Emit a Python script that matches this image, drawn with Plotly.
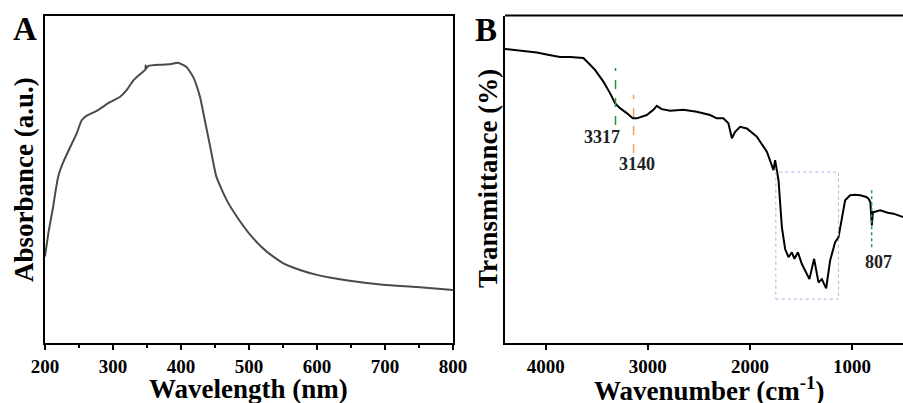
import plotly.graph_objects as go

# ---------------- Panel A: UV-vis absorbance ----------------
wavelength_nm = [200, 204.9, 207, 212.3, 215, 219.6, 227, 236.8, 246.6, 254, 262, 276, 296, 310, 320,
                 330, 345, 347.5, 348, 349, 352, 372, 386, 395, 408, 418, 428, 435, 443, 452,
                 467, 487, 506, 526, 550, 575, 600, 648, 697, 747, 800]
absorbance = [0.264, 0.335, 0.36, 0.42, 0.457, 0.51, 0.553, 0.597, 0.64, 0.680, 0.695, 0.709, 0.736, 0.751, 0.772,
              0.802, 0.830, 0.834, 0.848, 0.838, 0.846, 0.850, 0.852, 0.856, 0.843, 0.812, 0.751, 0.680, 0.599, 0.508,
              0.437, 0.371, 0.320, 0.279, 0.244, 0.223, 0.208, 0.190, 0.178, 0.171, 0.162]

# ---------------- Panel B: FTIR transmittance ----------------
wavenumber = [4400, 4330, 4253, 4180, 4089, 3980, 3861, 3763, 3632, 3583, 3518, 3436, 3371, 3322, 3273,
              3207, 3148, 3109, 3011, 2946, 2913, 2864, 2782, 2652, 2521, 2390, 2325, 2260, 2211,
              2177, 2145, 2096, 2030, 1932, 1834, 1769, 1753, 1720, 1687, 1655, 1622, 1589, 1564,
              1530, 1491, 1417, 1371, 1328, 1295, 1253, 1214, 1165, 1132, 1067, 1018, 970, 920,
              860, 838, 820, 805, 795, 782, 724, 650, 593, 494]
transmittance = [0.898, 0.896, 0.894, 0.890, 0.887, 0.880, 0.873, 0.873, 0.870, 0.855, 0.834, 0.798, 0.763, 0.732, 0.717,
                 0.702, 0.686, 0.686, 0.696, 0.712, 0.724, 0.714, 0.709, 0.712, 0.706, 0.696, 0.686, 0.686, 0.671,
                 0.625, 0.645, 0.660, 0.655, 0.630, 0.584, 0.528, 0.558, 0.497, 0.354, 0.287, 0.262, 0.277, 0.257,
                 0.277, 0.241, 0.195, 0.257, 0.185, 0.195, 0.167, 0.252, 0.308, 0.323, 0.436, 0.451, 0.453, 0.451,
                 0.446, 0.441, 0.43, 0.359, 0.40, 0.400, 0.405, 0.398, 0.395, 0.384]

peaks = [3317, 3140, 807]
peak_labels = ["3317", "3140", "807"]
peak_colors = ["#2f8f3a", "#f0a060", "#1e8c8c"]
box_wn = [1746, 1132]  # highlighted fingerprint region

W, H = 903, 403
def px(x):
    return x / W
def py(y):
    return 1 - y / H

ydom = [py(343), py(15.5)]
font_family = "Liberation Serif"

fig = go.Figure()
fig.add_trace(go.Scatter(x=wavelength_nm, y=absorbance, mode="lines",
                         line=dict(color="#4a4a4a", width=2, shape="spline", smoothing=0.5),
                         xaxis="x", yaxis="y", showlegend=False))
fig.add_trace(go.Scatter(x=wavenumber, y=transmittance, mode="lines", line=dict(color="black", width=2),
                         xaxis="x2", yaxis="y2", showlegend=False))

tickfont = dict(family=font_family, size=19, color="black", weight="bold")

fig.update_layout(
    template="none",
    width=W, height=H,
    margin=dict(l=0, r=0, t=0, b=0, pad=0, autoexpand=False),
    paper_bgcolor="white", plot_bgcolor="white",
    xaxis=dict(domain=[px(45), px(453)], range=[200, 800], dtick=100, tick0=200, automargin=False,
               showline=True, linecolor="black", linewidth=2, mirror=True,
               ticks="outside", ticklen=5, tickwidth=2, tickcolor="black",
               minor=dict(dtick=50, ticks="outside", ticklen=3, tickwidth=2, tickcolor="black"),
               showgrid=False, zeroline=False, tickfont=tickfont),
    yaxis=dict(domain=ydom, range=[0, 1], showticklabels=False, ticks="", automargin=False,
               showline=True, linecolor="black", linewidth=2, mirror=True,
               showgrid=False, zeroline=False, anchor="x"),
    xaxis2=dict(domain=[px(505), 1.0], range=[4400, 500], dtick=1000, tick0=0, automargin=False,
                showline=True, linecolor="black", linewidth=2, mirror=False,
                ticks="outside", ticklen=5, tickwidth=2, tickcolor="black",
                showgrid=False, zeroline=False, tickfont=tickfont, anchor="y2"),
    yaxis2=dict(domain=ydom, range=[0, 1], showticklabels=False, ticks="", automargin=False,
                showline=True, linecolor="black", linewidth=2, mirror=False,
                showgrid=False, zeroline=False, anchor="x2"),
)

# top border of panel B (right side is cut off in the reference)
fig.add_shape(type="line", xref="paper", yref="paper", x0=px(505), x1=1.0, y0=ydom[1], y1=ydom[1],
              line=dict(color="black", width=2))

# peak marker lines
vl = [(0.840, 0.666), (0.758, 0.580), (0.471, 0.292)]
for p, c, (y1, y0) in zip(peaks, peak_colors, vl):
    fig.add_shape(type="line", xref="x2", yref="y2", x0=p, x1=p, y0=y0, y1=y1,
                  line=dict(color=c, width=1.5, dash="dash" if p != 807 else "dot"))

# fingerprint box
fig.add_shape(type="rect", xref="x2", yref="y2", x0=box_wn[0], x1=box_wn[1], y0=0.134, y1=0.522,
              line=dict(color="#c7a6e0", width=1, dash="dot"))

lab_font = dict(family=font_family, size=18, color="#222222", weight="bold")
lab_pos = [(0.630, -14), (0.548, 3), (0.246, 7)]
for p, t, (yv, xs) in zip(peaks, peak_labels, lab_pos):
    fig.add_annotation(x=p, y=yv, xref="x2", yref="y2", text=t, showarrow=False, xshift=xs,
                       font=lab_font, xanchor="center", yanchor="middle")

title_font = dict(family=font_family, size=27, color="black", weight="bold")
fig.add_annotation(x=px(249), y=py(389), xref="paper", yref="paper", text="Wavelength (nm)",
                   showarrow=False, font=title_font, xanchor="center", yanchor="middle")
fig.add_annotation(x=px(709), y=py(389), xref="paper", yref="paper", text="Wavenumber (cm<sup>-1</sup>)",
                   showarrow=False, font=title_font, xanchor="center", yanchor="middle")
fig.add_annotation(x=px(24), y=py(180), xref="paper", yref="paper", text="Absorbance (a.u.)",
                   showarrow=False, font=title_font, textangle=-90, xanchor="center", yanchor="middle")
fig.add_annotation(x=px(488), y=py(179), xref="paper", yref="paper", text="Transmittance (%)",
                   showarrow=False, font=title_font, textangle=-90, xanchor="center", yanchor="middle")

panel_font = dict(family=font_family, size=33, color="black", weight="bold")
fig.add_annotation(x=px(25), y=py(29), xref="paper", yref="paper", text="A",
                   showarrow=False, font=panel_font, xanchor="center", yanchor="middle")
fig.add_annotation(x=px(486), y=py(30), xref="paper", yref="paper", text="B",
                   showarrow=False, font=panel_font, xanchor="center", yanchor="middle")

fig.write_html("out.html", config={"displayModeBar": False},
               post_script="document.body.style.margin='0px';")
